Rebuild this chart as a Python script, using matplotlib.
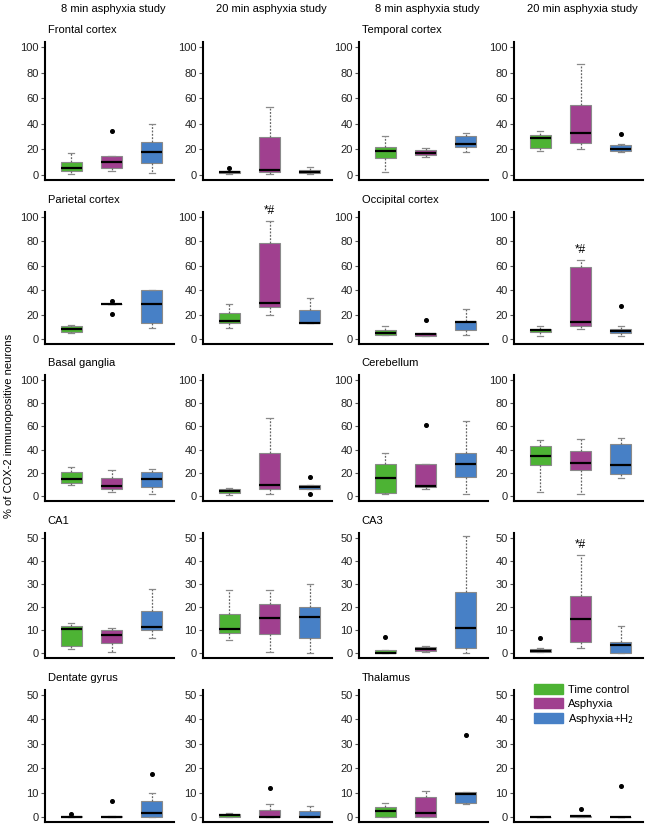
import matplotlib
matplotlib.use("Agg")
import matplotlib.pyplot as plt
from matplotlib.patches import Patch

plt.rcParams["font.family"] = ["Liberation Sans", "DejaVu Sans"]

# --------------------------------------------------------
# Data
# each box: (whisker low, q1, median, q3, whisker high)
# --------------------------------------------------------
GROUPS = ["Time control", "Asphyxia", "Asphyxia+H$_2$"]
COLORS = ["#4db334", "#a0408f", "#4780c6"]
STUDIES = ["8 min asphyxia study", "20 min asphyxia study"]

frontal_8 = [(0.8, 2.9, 5.3, 9.6, 17.3), (2.7, 5.0, 9.6, 14.9, 14.9), (1.3, 9.1, 18.1, 25.9, 39.7)]
frontal_8_out = [[], [34], []]
frontal_20 = [(0.3, 1.1, 1.9, 2.7, 2.7), (0.8, 2.1, 4.0, 29.6, 53.0), (0.8, 1.1, 1.9, 3.5, 5.9)]
frontal_20_out = [[5.3], [], []]

temporal_8 = [(2.1, 13.1, 18.2, 21.9, 30.7), (13.9, 15.2, 17.4, 19.3, 20.6), (17.6, 21.7, 24.3, 30.5, 32.4)]
temporal_8_out = [[], [], []]
temporal_20 = [(18.4, 21.1, 28.6, 31.3, 34.2), (20.3, 24.6, 32.9, 54.8, 86.9), (17.6, 18.2, 20.3, 23.0, 23.8)]
temporal_20_out = [[], [], [31.8]]

parietal_8 = [(4.9, 5.7, 8.4, 10.8, 11.6), (28.6, 28.6, 28.6, 28.6, 28.6), (8.6, 12.9, 28.6, 40.0, 40.2)]
parietal_8_out = [[], [31.5, 20.2], []]
parietal_20 = [(8.6, 12.9, 14.6, 21.0, 28.6), (19.9, 26.1, 29.4, 78.7, 96.5), (12.9, 12.9, 12.9, 23.7, 33.7)]
parietal_20_out = [[], [], []]

occipital_8 = [(3.2, 3.2, 4.8, 6.9, 10.9), (2.1, 2.1, 4.3, 5.1, 5.1), (3.2, 6.9, 13.6, 14.4, 24.5)]
occipital_8_out = [[], [15.5], []]
occipital_20 = [(2.7, 5.6, 7.2, 8.3, 10.9), (8.5, 10.7, 13.9, 59.2, 64.5), (2.1, 4.5, 6.1, 8.3, 10.4)]
occipital_20_out = [[], [], [26.7]]

basal_8 = [(9.9, 11.4, 15.1, 21.0, 24.7), (3.7, 5.7, 8.5, 15.6, 22.4), (1.7, 7.7, 15.1, 21.0, 23.0)]
basal_8_out = [[], [], []]
basal_20 = [(1.1, 2.5, 4.2, 5.8, 7.2), (1.4, 5.8, 9.7, 36.7, 67.5), (6.4, 6.4, 8.1, 9.7, 9.7)]
basal_20_out = [[], [], [16.7, 1.4]]

cerebellum_8 = [(2.0, 3.1, 15.4, 27.5, 37.0), (5.9, 7.6, 9.0, 27.7, 27.7), (2.0, 16.8, 27.7, 37.0, 64.4)]
cerebellum_8_out = [[], [61.3], []]
cerebellum_20 = [(3.3, 26.7, 34.3, 42.9, 48.5), (1.4, 22.3, 28.4, 38.7, 49.0), (15.9, 18.7, 26.5, 45.1, 50.1)]
cerebellum_20_out = [[], [], []]

ca1_8 = [(1.9, 3.2, 10.4, 11.7, 13.1), (0.4, 4.6, 7.8, 9.9, 10.8), (6.5, 9.9, 11.5, 18.4, 28.0)]
ca1_8_out = [[], [], []]
ca1_20 = [(5.7, 8.6, 10.6, 16.9, 27.5), (0.4, 8.3, 15.2, 21.5, 27.5), (0.0, 6.6, 15.5, 19.8, 30.1)]
ca1_20_out = [[], [], []]

ca3_8 = [(0.0, 0.0, 0.0, 1.4, 1.4), (0.6, 1.0, 1.9, 2.6, 3.3), (0.0, 2.4, 10.9, 26.4, 50.9)]
ca3_8_out = [[6.9], [], []]
ca3_20 = [(0.3, 0.3, 1.0, 1.7, 2.4), (2.1, 4.9, 14.9, 24.9, 42.7), (0.0, 0.0, 3.7, 4.9, 11.6)]
ca3_20_out = [[6.6], [], []]

dentate_8 = [(0.0, 0.0, 0.1, 0.4, 0.4), (0.0, 0.0, 0.1, 0.4, 0.4), (0.0, 0.0, 1.5, 6.5, 9.7)]
dentate_8_out = [[1.1], [6.6], [17.7]]
dentate_20 = [(0.1, 0.1, 0.7, 1.1, 1.7), (0.0, 0.0, 0.1, 2.8, 5.3), (0.0, 0.0, 0.1, 2.6, 4.3)]
dentate_20_out = [[], [11.9], []]

thalamus_8 = [(0.0, 0.1, 2.5, 4.1, 5.6), (0.0, 0.1, 1.5, 8.1, 10.7), (5.2, 5.6, 9.6, 10.4, 10.4)]
thalamus_8_out = [[], [], [33.8]]
thalamus_20 = [(0.0, 0.0, 0.0, 0.0, 0.0), (0.0, 0.0, 0.3, 0.5, 0.5), (0.0, 0.0, 0.0, 0.0, 0.0)]
thalamus_20_out = [[], [3.4], [12.6]]

# grid rows: (region, 8 min, 20 min) x 2 per row
ROWS = [
    [("Frontal cortex", frontal_8, frontal_8_out, frontal_20, frontal_20_out),
     ("Temporal cortex", temporal_8, temporal_8_out, temporal_20, temporal_20_out)],
    [("Parietal cortex", parietal_8, parietal_8_out, parietal_20, parietal_20_out),
     ("Occipital cortex", occipital_8, occipital_8_out, occipital_20, occipital_20_out)],
    [("Basal ganglia", basal_8, basal_8_out, basal_20, basal_20_out),
     ("Cerebellum", cerebellum_8, cerebellum_8_out, cerebellum_20, cerebellum_20_out)],
    [("CA1", ca1_8, ca1_8_out, ca1_20, ca1_20_out),
     ("CA3", ca3_8, ca3_8_out, ca3_20, ca3_20_out)],
    [("Dentate gyrus", dentate_8, dentate_8_out, dentate_20, dentate_20_out),
     ("Thalamus", thalamus_8, thalamus_8_out, thalamus_20, thalamus_20_out)],
]
ROW_YMAX = [100, 100, 100, 50, 50]

# panels marked *# (region, study)
SIGNIFICANT = [("Parietal cortex", 1), ("Occipital cortex", 1), ("CA3", 1)]

# --------------------------------------------------------
# Layout (pixels)
# --------------------------------------------------------
W, H = 650, 825
COL_LEFT = [45, 203, 359, 514]
COL_W = 129
ROW_SPAN = [(42, 180), (212, 344), (375, 501), (533, 658), (690, 822)]

fig = plt.figure(figsize=(W / 100, H / 100), dpi=100)


def draw_panel(ax, boxes, outliers, ymax, sig):
    stats = []
    for (lo, q1, med, q3, hi), out in zip(boxes, outliers):
        stats.append(dict(whislo=lo, q1=q1, med=med, q3=q3, whishi=hi, fliers=out))
    bp = ax.bxp(stats, positions=[1, 2, 3], widths=0.52, patch_artist=True,
                capwidths=0.16,
                boxprops=dict(edgecolor="#8a8a8a", linewidth=0.8),
                medianprops=dict(color="black", linewidth=1.6),
                whiskerprops=dict(color="#666666", linewidth=0.9, linestyle=(0, (1.5, 1.2))),
                capprops=dict(color="#8a8a8a", linewidth=0.9),
                flierprops=dict(marker="o", markerfacecolor="black",
                                markeredgecolor="black", markersize=2.6))
    for patch, col in zip(bp["boxes"], COLORS):
        patch.set_facecolor(col)

    if sig:
        ax.annotate("*#", xy=(2, boxes[1][4]), xytext=(0, 3), textcoords="offset points",
                    ha="center", va="bottom", fontsize=8.5)

    pad = 0.042 * ymax
    ax.set_ylim(-pad, ymax + pad)
    ax.set_xlim(0.35, 3.55)
    ax.set_yticks(range(0, ymax + 1, ymax // 5))
    ax.set_xticks([])
    for s in ["top", "right"]:
        ax.spines[s].set_visible(False)
    for s in ["left", "bottom"]:
        ax.spines[s].set_linewidth(1.5)
    ax.tick_params(axis="y", length=3, width=0.8, color="#555555",
                   labelsize=8, labelcolor="#222222", pad=1.5)


for r, row in enumerate(ROWS):
    top, bot = ROW_SPAN[r]
    for k, (region, b8, o8, b20, o20) in enumerate(row):
        for s, (boxes, outs) in enumerate([(b8, o8), (b20, o20)]):
            c = 2 * k + s
            ax = fig.add_axes([COL_LEFT[c] / W, 1 - bot / H, COL_W / W, (bot - top) / H])
            draw_panel(ax, boxes, outs, ROW_YMAX[r], (region, s) in SIGNIFICANT)
            if s == 0:
                ax.annotate(region, xy=(0, 1), xycoords="axes fraction", xytext=(2, 5),
                            textcoords="offset points", ha="left", va="bottom", fontsize=8)

# column headers
for c in range(4):
    fig.text((COL_LEFT[c] + 68) / W, 1 - 9 / H, STUDIES[c % 2],
             ha="center", va="center", fontsize=8)

fig.text(9 / W, 1 - 426 / H, "% of COX-2 immunopositive neurons",
         rotation=90, ha="center", va="center", fontsize=8)

handles = [Patch(facecolor=col, edgecolor=col, label=g) for g, col in zip(GROUPS, COLORS)]
fig.legend(handles=handles, loc="upper left", bbox_to_anchor=(530 / W, 1 - 680 / H),
           frameon=False, fontsize=8, handlelength=2.6, handleheight=1.0,
           handletextpad=0.4, labelspacing=0.25, borderaxespad=0)

fig.savefig("out.png", dpi=100)
